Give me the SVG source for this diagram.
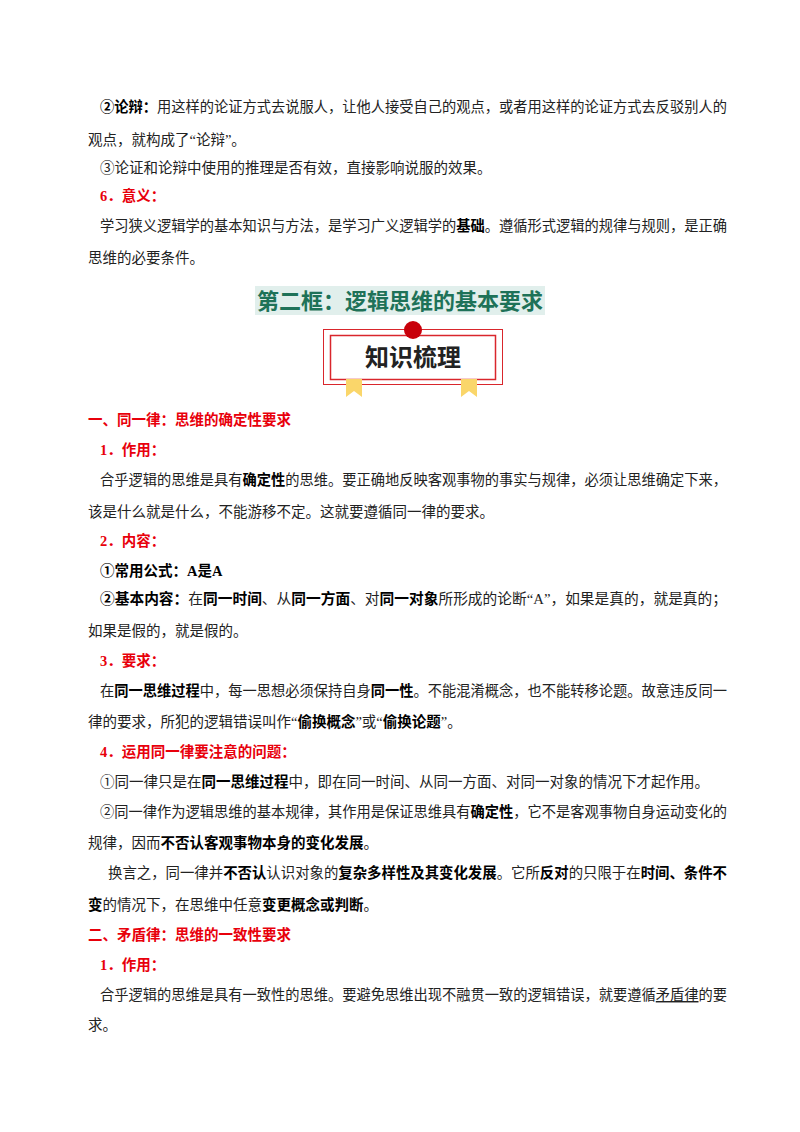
<svg xmlns="http://www.w3.org/2000/svg" width="800" height="1132" viewBox="0 0 800 1132">
<style>
text{font-family:"Liberation Serif","Noto Sans CJK SC",serif;font-size:14.5px;fill:#222}
.b{font-weight:bold;fill:#000}
.r{fill:#e8000b;font-weight:bold}
.u{text-decoration:underline}
</style>
<rect width="800" height="1132" fill="#fff"/>
<text x="100" y="112" textLength="627" lengthAdjust="spacingAndGlyphs"><tspan class="b">②论辩：</tspan>用这样的论证方式去说服人，让他人接受自己的观点，或者用这样的论证方式去反驳别人的</text>
<text x="88" y="145">观点，就构成了“论辩”。</text>
<text x="100" y="173">③论证和论辩中使用的推理是否有效，直接影响说服的效果。</text>
<text x="100" y="201" class="r">6．意义：</text>
<text x="100" y="231" textLength="627" lengthAdjust="spacingAndGlyphs">学习狭义逻辑学的基本知识与方法，是学习广义逻辑学的<tspan class="b">基础</tspan>。遵循形式逻辑的规律与规则，是正确</text>
<text x="88" y="263">思维的必要条件。</text>
<g id="title">
<rect x="255" y="286" width="290" height="29" fill="#e1efec"/>
<text x="400" y="309" text-anchor="middle" style="font-family:'Noto Sans CJK SC',sans-serif;font-size:22px;font-weight:bold;fill:#1e7258">第二框：逻辑思维的基本要求</text>
</g>
<g id="banner">
<rect x="323.5" y="329.5" width="179" height="55" fill="none" stroke="#d9262c" stroke-width="1"/>
<rect x="330.5" y="335.5" width="165" height="44" fill="#fff" stroke="#d9262c" stroke-width="1.5"/>
<circle cx="413" cy="330" r="9" fill="#c8000a"/>
<text x="413" y="366" text-anchor="middle" style="font-family:'Noto Sans CJK SC',sans-serif;font-size:24px;font-weight:bold;fill:#222">知识梳理</text>
<polygon points="346,379 362,379 362,397 354,391 346,397" fill="#fad66a"/>
<polygon points="461,379 477,379 477,397 469,391 461,397" fill="#fad66a"/>
</g>
<text x="88" y="425" class="r">一、同一律：思维的确定性要求</text>
<text x="100" y="455" class="r">1．作用：</text>
<text x="100" y="485" textLength="627" lengthAdjust="spacingAndGlyphs">合乎逻辑的思维是具有<tspan class="b">确定性</tspan>的思维。要正确地反映客观事物的事实与规律，必须让思维确定下来，</text>
<text x="88" y="517">该是什么就是什么，不能游移不定。这就要遵循同一律的要求。</text>
<text x="100" y="546" class="r">2．内容：</text>
<text x="100" y="576" class="b">①常用公式：A是A</text>
<text x="100" y="604" textLength="627" lengthAdjust="spacingAndGlyphs"><tspan class="b">②基本内容：</tspan>在<tspan class="b">同一时间</tspan>、从<tspan class="b">同一方面</tspan>、对<tspan class="b">同一对象</tspan>所形成的论断“A”，如果是真的，就是真的；</text>
<text x="88" y="636">如果是假的，就是假的。</text>
<text x="100" y="666" class="r">3．要求：</text>
<text x="100" y="696" textLength="627" lengthAdjust="spacingAndGlyphs">在<tspan class="b">同一思维过程</tspan>中，每一思想必须保持自身<tspan class="b">同一性</tspan>。不能混淆概念，也不能转移论题。故意违反同一</text>
<text x="88" y="727">律的要求，所犯的逻辑错误叫作“<tspan class="b">偷换概念</tspan>”或“<tspan class="b">偷换论题</tspan>”。</text>
<text x="100" y="757" class="r">4．运用同一律要注意的问题：</text>
<text x="100" y="787">①同一律只是在<tspan class="b">同一思维过程</tspan>中，即在同一时间、从同一方面、对同一对象的情况下才起作用。</text>
<text x="100" y="817" textLength="627" lengthAdjust="spacingAndGlyphs">②同一律作为逻辑思维的基本规律，其作用是保证思维具有<tspan class="b">确定性</tspan>，它不是客观事物自身运动变化的</text>
<text x="88" y="848">规律，因而<tspan class="b">不否认客观事物本身的变化发展</tspan>。</text>
<text x="108" y="878" textLength="619" lengthAdjust="spacingAndGlyphs">换言之，同一律并<tspan class="b">不否认</tspan>认识对象的<tspan class="b">复杂多样性及其变化发展</tspan>。它所<tspan class="b">反对</tspan>的只限于在<tspan class="b">时间、条件不</tspan></text>
<text x="88" y="910"><tspan class="b">变</tspan>的情况下，在思维中任意<tspan class="b">变更概念或判断</tspan>。</text>
<text x="88" y="940" class="r">二、矛盾律：思维的一致性要求</text>
<text x="100" y="970" class="r">1．作用：</text>
<text x="100" y="1000" textLength="627" lengthAdjust="spacingAndGlyphs">合乎逻辑的思维是具有一致性的思维。要避免思维出现不融贯一致的逻辑错误，就要遵循<tspan class="u">矛盾律</tspan>的要</text>
<text x="88" y="1030">求。</text>
</svg>
